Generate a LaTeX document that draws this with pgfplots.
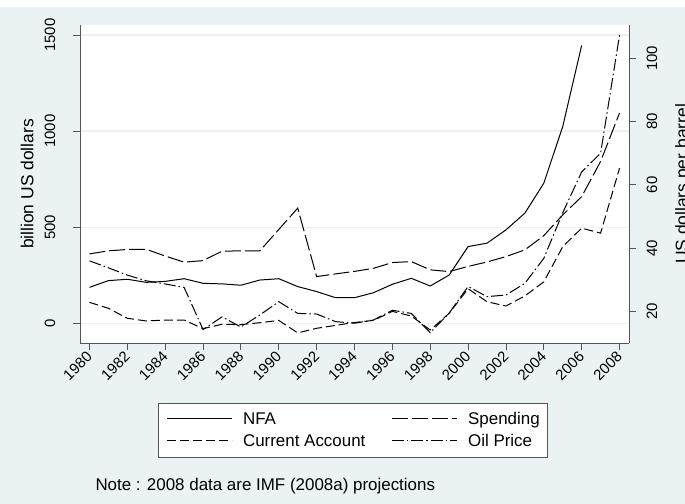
\documentclass[border=0pt]{standalone}
\usepackage{fontspec}
\setmainfont{Liberation Sans}
\usepackage{pgfplots}
\pgfplotsset{compat=1.18}
\usepackage{pgfplotstable}
\definecolor{bgc}{RGB}{234,242,243}
\definecolor{axc}{RGB}{85,85,85}

\pgfplotstableread{
year NFA Spending CA Oil
1980 187 361 109 36.0
1981 222 377 78 33.8
1982 229 384 26 31.5
1983 213 385 12 29.7
1984 218 350 17 28.7
1985 232 318 17 27.6
1986 208 326 -28 14.3
1987 205 375 -5 18.3
1988 198 377 -7 15.1
1989 225 377 3 18.9
1990 232 488 15 23.1
1991 191 599 -50 19.4
1992 165 243 -26 19.2
1993 133 257 -11 16.8
1994 133 270 4 16.3
1995 159 286 15 17.3
1996 203 316 62 20.4
1997 234 321 38 19.4
1998 194 278 -35 13.3
1999 251 269 52 19.5
2000 399 296 180 27.9
2001 417 319 112 24.7
2002 486 347 90 25.2
2003 573 382 142 28.9
2004 729 456 216 36.8
2005 1024 564 399 51.2
2006 1446 659 495 64.1
2007 nan 842 469 70.0
2008 nan 1094 807 107.3
}\data

\tikzset{
  nfa/.style={black, line width=1bp},
  spend/.style={black, line width=1bp, dash pattern=on 16bp off 4bp},
  ca/.style={black, line width=1bp, dash pattern=on 9bp off 4bp},
  oil/.style={black, line width=1bp, dash pattern=on 12bp off 3bp on 1.5bp off 3bp},
}

\begin{document}
\begin{tikzpicture}
\useasboundingbox (0,0) rectangle (685bp,-504bp);
\fill[white] (0,0) rectangle (685bp,-504bp);
\fill[bgc] (0,-7bp) rectangle (685bp,-504bp);
\begin{axis}[
  at={(80bp,-343bp)}, anchor=south west,
  scale only axis, width=549bp, height=318bp,
  xmin=1979.5, xmax=2008.5, ymin=-102.6, ymax=1552,
  axis x line*=bottom, axis y line*=left,
  axis line style={axc, line width=0.9bp, -},
  xtick={1980,1982,...,2008},
  ytick={0,500,1000,1500},
  tick align=outside, major tick length=7bp,
  xtick pos=left, ytick pos=left,
  tick style={axc, line width=0.9bp},
  /pgf/number format/assume math mode=true,
  /pgf/number format/set thousands separator={},
  xticklabel style={rotate=45, anchor=east, inner sep=0pt, font=\fontsize{15}{18}\selectfont},
  xticklabel shift=4bp,
  yticklabel style={rotate=90, anchor=base, inner sep=0pt, font=\fontsize{15}{18}\selectfont},
  yticklabel shift=18bp,
  ymajorgrids, grid style={bgc, line width=1.2bp},
  axis background/.style={fill=white},
  ylabel={billion US dollars},
  every axis y label/.style={at={(axis description cs:-0.0851,0.5)}, rotate=90, anchor=base, font=\fontsize{17.5}{20}\selectfont},
  legend columns=2,
  legend cell align=left,
  legend image code/.code={\draw[#1] (0bp,5.7bp) -- (65bp,5.7bp);},
  legend style={at={(axis description cs:0.142,-0.1887)}, anchor=north west,
    draw=axc, line width=0.8bp, fill=white,
    font=\fontsize{17}{20}\selectfont,
    inner xsep=8bp, inner ysep=9bp,
    nodes={inner sep=0pt, anchor=base west},
    row sep=8bp,
    /tikz/every odd column/.append style={column sep=10.7bp},
    /tikz/every even column/.append style={column sep=26bp}},
]
\addplot[nfa] table[x=year, y=NFA] {\data};
\addlegendentry{NFA}
\addplot[spend] table[x=year, y=Spending] {\data};
\addlegendentry{Spending}
\addplot[ca] table[x=year, y=CA] {\data};
\addlegendentry{Current Account}
\addlegendimage{oil}
\addlegendentry{Oil Price}
\end{axis}
\begin{axis}[
  at={(80bp,-343bp)}, anchor=south west,
  scale only axis, width=549bp, height=318bp,
  xmin=1979.5, xmax=2008.5, ymin=10.05, ymax=110.5,
  axis x line=none, axis y line*=right,
  axis line style={axc, line width=0.9bp, -},
  ytick={20,40,...,100},
  tick align=outside, major tick length=7bp,
  ytick pos=right,
  tick style={axc, line width=0.9bp},
  /pgf/number format/assume math mode=true,
  yticklabel style={rotate=90, anchor=base, inner sep=0pt, font=\fontsize{15}{18}\selectfont},
  yticklabel shift=21bp,
  ylabel={US dollars per barrel},
  every axis y label/.style={at={(axis description cs:1.1071,0.5)}, rotate=90, anchor=base, font=\fontsize{17.5}{20}\selectfont},
]
\addplot[oil] table[x=year, y=Oil] {\data};
\end{axis}
\node[anchor=base west, font=\fontsize{17}{20}\selectfont] at (92bp,-490bp) {Note :  2008 data are IMF (2008a) projections};
\end{tikzpicture}
\end{document}
